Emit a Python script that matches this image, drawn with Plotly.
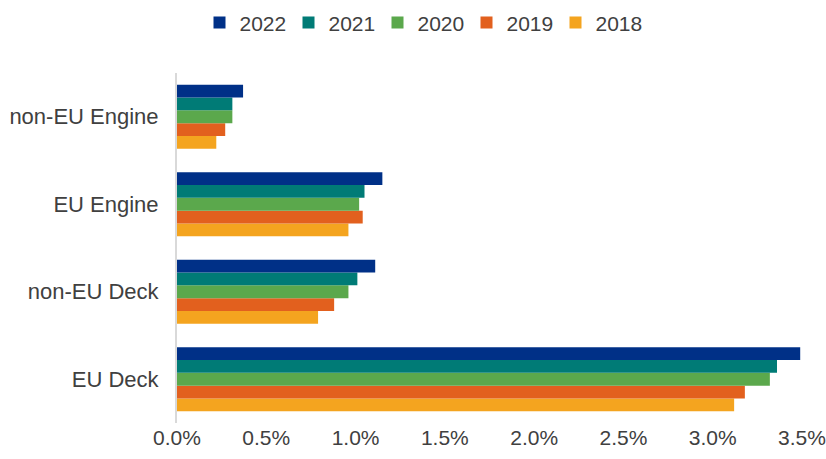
import plotly.graph_objects as go

# Categories, listed bottom to top as drawn on the y axis
categories = ["EU Deck", "non-EU Deck", "EU Engine", "non-EU Engine"]

# Share (%) per year, aligned with categories
years = ["2018", "2019", "2020", "2021", "2022"]
values_2018 = [3.12, 0.79, 0.96, 0.22]
values_2019 = [3.18, 0.88, 1.04, 0.27]
values_2020 = [3.32, 0.96, 1.02, 0.31]
values_2021 = [3.36, 1.01, 1.05, 0.31]
values_2022 = [3.49, 1.11, 1.15, 0.37]
series = [values_2018, values_2019, values_2020, values_2021, values_2022]

colors = ["#F4A41F", "#E2601E", "#5BA84C", "#007B76", "#003087"]

tick_vals = [0, 0.5, 1.0, 1.5, 2.0, 2.5, 3.0, 3.5]
tick_text = ["0.0%", "0.5%", "1.0%", "1.5%", "2.0%", "2.5%", "3.0%", "3.5%"]

font_family = "Liberation Sans, Arial, sans-serif"
text_color = "#404040"

fig = go.Figure()
for year, vals, color in zip(years, series, colors):
    fig.add_trace(go.Bar(
        name=year,
        y=categories,
        x=vals,
        orientation="h",
        marker=dict(color=color, line=dict(width=0)),
    ))

fig.update_layout(
    width=826,
    height=459,
    barmode="group",
    bargap=0.27,
    bargroupgap=0,
    plot_bgcolor="white",
    paper_bgcolor="white",
    margin=dict(l=177, r=24, t=73, b=36, autoexpand=False),
    font=dict(family=font_family, size=21, color=text_color),
    legend=dict(
        orientation="h",
        traceorder="reversed",
        x=0.392,
        xanchor="center",
        y=0.995,
        yref="container",
        yanchor="top",
        font=dict(size=21, color=text_color),
        itemwidth=30,
        entrywidth=44,
    ),
    showlegend=True,
)

fig.update_xaxes(
    range=[0, 3.5],
    tickvals=tick_vals,
    ticktext=tick_text,
    showgrid=False,
    zeroline=False,
    showline=False,
    ticks="",
    automargin=False,
    ticklabelstandoff=0,
    tickfont=dict(size=21, color=text_color),
)

fig.update_yaxes(
    categoryorder="array",
    categoryarray=categories,
    showgrid=False,
    showline=True,
    linecolor="#D9D9D9",
    linewidth=2,
    ticks="",
    automargin=False,
    ticklabelstandoff=12,
    tickfont=dict(size=22, color=text_color),
)

fig.write_html("out.html")
